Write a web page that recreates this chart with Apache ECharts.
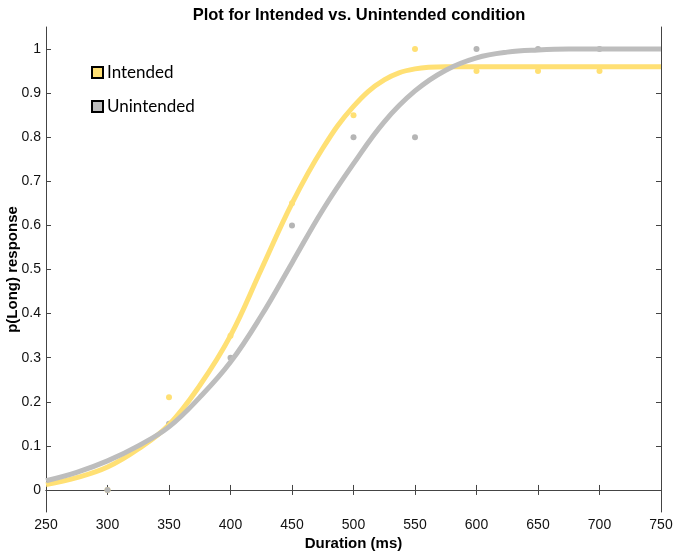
<!DOCTYPE html>
<html>
<head>
<meta charset="utf-8">
<script src="https://cdn.jsdelivr.net/npm/echarts@6/dist/echarts.min.js"></script>
<style>html,body{margin:0;padding:0;background:#fff}#c{width:675px;height:553px}</style>
</head>
<body>
<div id="c"></div>
<script>
// Observed data points
var intendedX = [300, 350, 400, 450, 500, 550, 600, 650, 700];
var intendedY = [0, 0.21, 0.35, 0.65, 0.85, 1.0, 0.95, 0.95, 0.95];
var unintendedX = [300, 350, 400, 450, 500, 550, 600, 650, 700];
var unintendedY = [0, 0.15, 0.30, 0.60, 0.80, 0.80, 1.0, 1.0, 1.0];
// Fitted curves
var curveX = [250, 275, 300, 325, 350, 375, 400, 425, 450, 475, 500, 525, 550, 575, 600, 625, 650, 675, 700, 725, 750];
var intendedFit = [0.012, 0.028, 0.052, 0.093, 0.148, 0.237, 0.35, 0.50, 0.65, 0.775, 0.87, 0.93, 0.955, 0.96, 0.96, 0.96, 0.96, 0.96, 0.96, 0.96, 0.96];
var unintendedFit = [0.021, 0.04, 0.066, 0.10, 0.143, 0.21, 0.29, 0.395, 0.515, 0.635, 0.74, 0.835, 0.905, 0.952, 0.98, 0.993, 0.998, 1.0, 1.0, 1.0, 1.0];
var yTicks = [0, 0.1, 0.2, 0.3, 0.4, 0.5, 0.6, 0.7, 0.8, 0.9, 1];
var seriesNames = ['Intended', 'Unintended'];

function pairs(xs, ys) { return xs.map(function (x, i) { return [x, ys[i]]; }); }

var yellow = '#FFE074';
var grey = '#BDBDBD';
var axisCol = '#444';

var chart = echarts.init(document.getElementById('c'), null, {renderer: 'canvas'});
chart.setOption({
  animation: false,
  backgroundColor: '#fff',
  title: {
    text: 'Plot for Intended vs. Unintended condition',
    left: 354, top: 2, textAlign: 'center',
    textStyle: {fontFamily: 'Liberation Sans', fontWeight: 'bold', fontSize: 16.5, color: '#000'}
  },
  legend: {
    orient: 'vertical', left: 86, top: 59, itemGap: 17,
    icon: 'rect', itemWidth: 11, itemHeight: 11,
    data: seriesNames,
    itemStyle: {borderColor: '#000', borderWidth: 2},
    textStyle: {fontFamily: 'Lato', fontSize: 17, color: '#000', padding: [0, 0, 0, -1]}
  },
  grid: {left: 46, right: 14, top: 27, bottom: 41, outerBoundsMode: 'none', containLabel: false},
  xAxis: [{
    type: 'value', min: 250, max: 750, interval: 50, position: 'bottom',
    name: 'Duration (ms)', nameLocation: 'middle', nameGap: 24, nameMoveOverlap: false,
    nameTextStyle: {fontFamily: 'Liberation Sans', fontWeight: 'bold', fontSize: 15, color: '#000'},
    axisLine: {show: true, lineStyle: {color: axisCol, width: 1}},
    axisTick: {show: true, inside: true, length: 5, lineStyle: {color: axisCol}},
    axisLabel: {margin: 6, fontFamily: 'Liberation Sans', fontSize: 14, color: '#111', showMinLabel: true, showMaxLabel: true},
    splitLine: {show: false}
  }, {
    type: 'value', min: 250, max: 750, interval: 50, position: 'top',
    axisLine: {show: true, lineStyle: {color: axisCol, width: 1}},
    axisTick: {show: true, inside: true, length: 5, lineStyle: {color: axisCol}},
    axisLabel: {show: false}, splitLine: {show: false}
  }],
  yAxis: [{
    type: 'value', min: -0.05, max: 1.05, position: 'left',
    name: 'p(Long) response', nameLocation: 'middle', nameGap: 26, nameMoveOverlap: false,
    nameTextStyle: {fontFamily: 'Liberation Sans', fontWeight: 'bold', fontSize: 15, color: '#000'},
    axisLine: {show: true, lineStyle: {color: axisCol, width: 1}},
    axisTick: {show: true, inside: true, length: 5, customValues: yTicks, lineStyle: {color: axisCol}},
    axisLabel: {margin: 5, customValues: yTicks, fontFamily: 'Liberation Sans', fontSize: 14, color: '#111'},
    splitLine: {show: false}
  }, {
    type: 'value', min: -0.05, max: 1.05, position: 'right',
    axisLine: {show: true, lineStyle: {color: axisCol, width: 1}},
    axisTick: {show: true, inside: true, length: 5, customValues: yTicks, lineStyle: {color: axisCol}},
    axisLabel: {show: false}, splitLine: {show: false}
  }],
  series: [{
    name: 'Intended', type: 'line', data: pairs(curveX, intendedFit), smooth: 0.4,
    showSymbol: false, z: 3, itemStyle: {color: yellow},
    lineStyle: {color: yellow, width: 5}
  }, {
    name: 'Unintended', type: 'line', data: pairs(curveX, unintendedFit), smooth: 0.4,
    showSymbol: false, z: 4, itemStyle: {color: grey},
    lineStyle: {color: grey, width: 5}
  }, {
    name: 'IntendedPts', type: 'scatter', data: pairs(intendedX, intendedY),
    symbolSize: 6, z: 2, itemStyle: {color: yellow, opacity: 1}
  }, {
    name: 'UnintendedPts', type: 'scatter', data: pairs(unintendedX, unintendedY),
    symbolSize: 6, z: 2.5, itemStyle: {color: '#B5B5B5', opacity: 1}
  }]
});
</script>
</body>
</html>
